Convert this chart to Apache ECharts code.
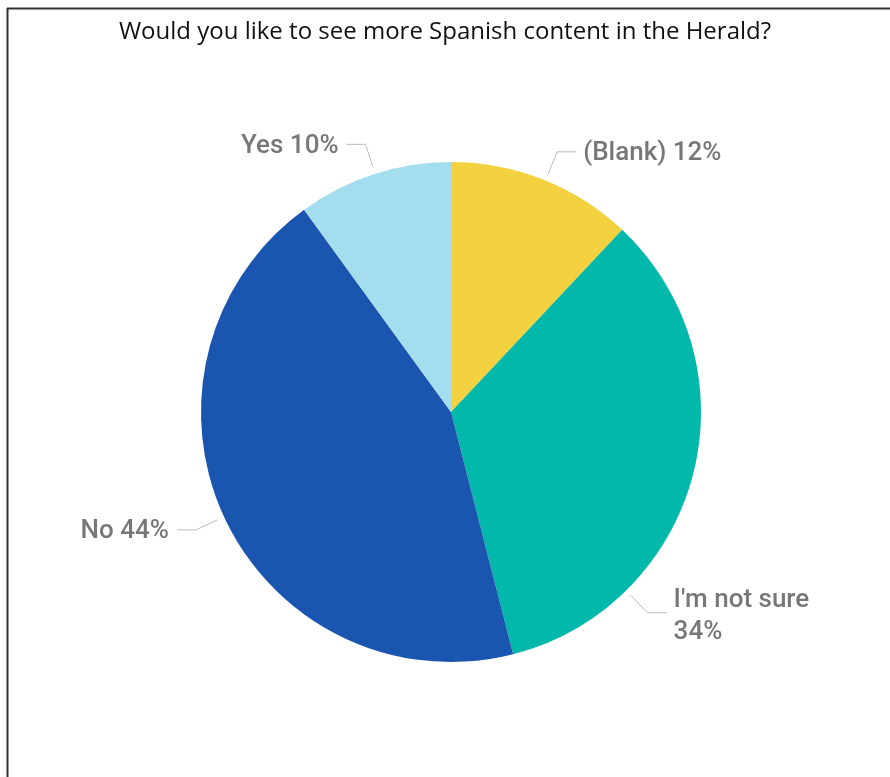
<!DOCTYPE html>
<html>
<head>
<meta charset="utf-8">
<script src="https://cdn.jsdelivr.net/npm/echarts@6/dist/echarts.min.js"></script>
<style>
  html, body { margin: 0; padding: 0; background: #fff; }
  #chart { width: 890px; height: 777px; }
</style>
</head>
<body>
<div id="chart"></div>
<script>
// 数据
const categories = ["(Blank)", "I'm not sure", "No", "Yes"];
const shares = [12, 34, 44, 10];
const colors = ["#F4D23F", "#01B8AA", "#1A56B0", "#A3DDEE"];

// 标签引线的锚点角度（从正上方顺时针，单位：度）—— 仅布局用
const labelAnchorDeg = [22.2, 135.6, 245.2, 342.3];

const CX = 451, CY = 412, R = 250;

const polar = (deg, r) => {
  const a = (deg * Math.PI) / 180;
  return [CX + r * Math.sin(a), CY - r * Math.cos(a)];
};

const chart = echarts.init(document.getElementById("chart"), null, { renderer: "canvas" });

const option = {
  animation: false,
  title: {
    text: "Would you like to see more Spanish content in the Herald?",
    left: "center",
    top: 15,
    textStyle: { fontFamily: "Open Sans", fontSize: 24, fontWeight: "normal", color: "#111" },
  },
  // 外框（只有上边和左边）
  graphic: [
    { type: "line", shape: { x1: 7, y1: 8.5, x2: 890, y2: 8.5 }, style: { stroke: "#333", lineWidth: 2 } },
    { type: "line", shape: { x1: 7.5, y1: 8, x2: 7.5, y2: 777 }, style: { stroke: "#333", lineWidth: 2 } },
  ],
  series: [
    {
      type: "pie",
      center: [CX, CY],
      radius: R,
      startAngle: 90,
      clockwise: true,
      avoidLabelOverlap: false,
      label: {
        formatter: "{b} {d}%",
        fontFamily: "Roboto",
        fontSize: 26,
        fontWeight: 500,
        color: "#777",
        lineHeight: 32,
      },
      labelLine: { show: true, lineStyle: { color: "#bbb", width: 1 } },
      labelLayout: (params) => {
        const deg = labelAnchorDeg[params.dataIndex];
        const right = deg < 180;
        const p0 = polar(deg, R + 7);
        const p1 = polar(deg, R + 31);
        const p2 = [p1[0] + (right ? 19 : -19), p1[1]];
        const twoLines = categories[params.dataIndex] === "I'm not sure";
        return {
          x: p2[0] + (right ? 7 : -8),
          y: p2[1] + (twoLines ? 4 : 2),
          align: right ? "left" : "right",
          verticalAlign: "middle",
          labelLinePoints: [p0, p1, p2],
        };
      },
      data: categories.map((name, i) => ({
        name,
        value: shares[i],
        itemStyle: { color: colors[i] },
        label: name === "I'm not sure" ? { formatter: "{b}\n{d}%" } : undefined,
      })),
    },
  ],
};

chart.setOption(option);
</script>
</body>
</html>
